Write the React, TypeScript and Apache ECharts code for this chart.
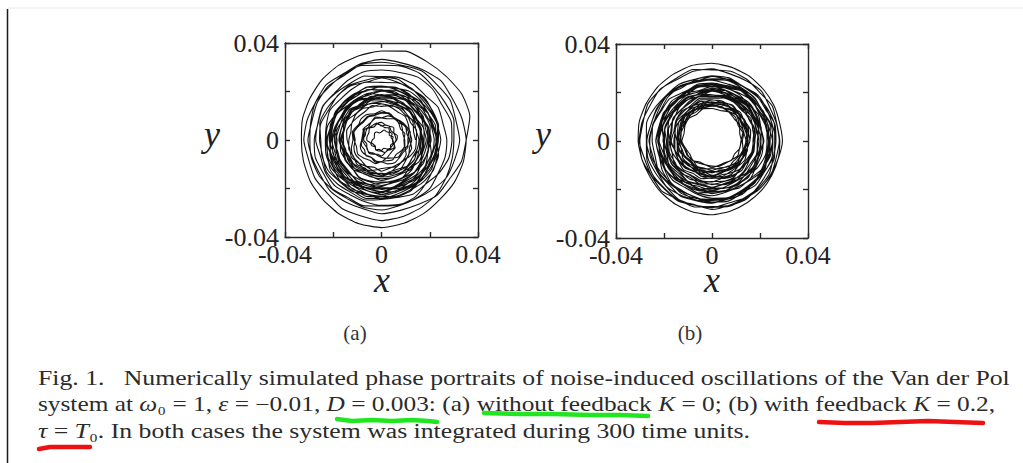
import React, { useEffect, useRef } from "react";
import * as echarts from "echarts";

// Polar sampling angles (degrees, counter-clockwise from +x) for every revolution
const ANGLES = [0, 15, 30, 45, 60, 75, 90, 105, 120, 135, 150, 165, 180, 195, 210, 225, 240, 255, 270, 285, 300, 315, 330, 345];
const AXIS_MIN = -0.04;
const AXIS_MAX = 0.04;
const AXIS_STEP = 0.02;
const TICK_LABELS = ["-0.04", "0", "0.04"];

// Panel (a): K = 0. Radius sqrt(x^2+y^2) of the trajectory, one row per revolution (units of 1e-4).
const LOOPS_A: number[][] = [
  [141,137,150,149,160,155,161,168,158,168,165,159,166,156,149,154,146,139,145,136,138,151,147,161],
  [165,170,158,164,161,166,158,156,164,168,163,162,170,175,169,168,179,176,174,180,180,190,198,196],
  [205,199,194,202,191,184,188,182,171,178,169,173,176,167,172,169,182,180,188,183,187,190,186,186],
  [191,196,186,183,193,192,186,200,199,200,213,209,210,219,222,217,211,218,218,206,209,217,210,216],
  [218,214,223,214,222,224,218,227,218,219,223,211,214,216,208,214,203,210,201,209,220,218,220,233],
  [233,239,233,226,219,226,221,212,216,209,214,220,211,221,228,226,235,231,245,241,239,245,248,240],
  [245,239,242,249,243,248,256,247,258,258,251,260,256,252,263,257,251,257,246,246,259,258,274,288],
  [291,298,289,298,300,289,289,291,283,274,280,272,272,261,268,270,261,264,270,276,281,293,310,313],
  [323,318,328,324,330,320,321,323,308,313,307,298,304,295,291,299,296,294,305,301,307,324,324,342],
  [350,378,382,375,374,380,368,360,356,350,342,338,331,334,340,345,352,358,362,356,350,344,348,350],
  [350,344,339,347,336,329,333,327,316,323,314,318,321,312,317,314,327,325,333,328,324,320,309,302],
  [299,310,305,306,317,316,309,319,313,308,314,302,296,299,297,288,281,288,289,281,280,283,271,272],
  [270,263,270,258,266,268,262,274,267,271,279,271,278,283,277,286,275,282,273,278,274,257,246,244],
  [229,241,243,244,245,260,261,256,262,257,260,264,251,255,254,244,245,233,241,233,230,235,239,230],
  [234,223,222,225,215,217,222,212,222,222,217,230,229,230,245,243,241,250,242,243,243,230,233,235],
  [225,231,221,230,232,222,223,226,220,213,221,215,216,206,214,216,207,209,214,219,210,207,210,198],
  [194,188,198,195,205,200,207,216,209,221,221,217,227,219,215,222,215,208,213,202,197,203,192,199],
  [196,201,189,195,191,194,185,181,189,191,185,182,189,194,188,187,199,198,197,205,193,192,188,175],
  [172,165,160,169,162,160,170,171,168,182,179,188,195,187,192,188,197,190,192,180,178,176,166,161],
  [160,171,166,167,178,177,170,180,174,169,175,163,157,160,158,149,142,149,150,142,146,153,147,152],
  [155,148,155,143,148,148,139,147,136,136,141,131,135,140,134,143,135,144,138,147,147,134,127,129],
  [118,123,117,111,106,116,113,107,113,109,116,125,118,129,136,133,140,133,145,138,127,123,118,100],
  [96,92,99,109,105,112,121,112,122,121,112,120,113,107,114,105,97,101,89,89,94,85,92,98],
  [93,100,91,100,102,91,91,93,85,76,82,74,74,63,70,72,63,66,72,78,68,64,65,52],
  [47,41,51,48,58,53,60,69,62,74,74,70,80,72,68,75,68,61,66,55,49,54,43,49],
  [45,50,38,44,40,43,34,30,38,40,34,31,38,43,37,36,48,47,46,54,50,56,61,55],
  [60,59,59,72,66,64,73,70,62,70,60,61,61,47,47,39,47,40,43,35,43,50,50,54],
  [63,68,58,55,65,64,58,72,71,72,85,81,82,91,94,89,83,90,90,78,86,99,97,108],
  [115,108,114,101,105,103,92,98,85,84,88,77,81,86,81,91,84,95,91,102,109,104,103,113],
  [109,116,112,107,103,114,111,105,110,105,111,118,109,118,123,119,125,117,129,122,120,125,129,120],
  [125,121,128,138,134,141,150,141,151,150,141,149,142,136,143,134,126,130,118,118,127,122,135,145],
  [144,150,140,149,154,146,150,157,155,152,163,159,163,153,161,163,151,151,153,154,156,164,179,178],
  [185,180,190,186,192,182,183,185,170,175,169,160,166,157,153,161,158,156,167,163,162,171,165,175],
  [176,181,170,177,176,182,177,177,189,196,193,194,203,208,201,199,208,204,199,203,203,213,220,218],
  [227,219,211,217,205,198,203,199,191,200,194,200,206,199,207,206,220,218,225,218,223,229,226,229],
  [235,244,237,237,247,245,238,248,243,239,246,236,232,237,237,229,223,231,232,224,226,232,223,227],
  [228,218,221,207,212,213,205,216,208,212,221,215,224,232,230,241,233,241,234,240,238,223,213,213],
  [200,208,206,202,197,206,202,193,196,188,191,196,184,192,195,190,197,191,204,200,191,190,187,172],
  [170,164,168,176,171,178,188,181,194,195,189,199,195,191,201,194,187,191,178,176,177,163,167,168],
  [159,166,158,168,173,165,169,175,171,167,176,172,174,163,169,170,158,158,160,162,160,155,158,152],
];

// Panel (b): K = 0.2, tau = T0 (units of 1e-4)
const LOOPS_B: number[][] = [
  [195,189,196,185,191,191,183,191,182,182,187,175,179,183,177,185,176,185,178,187,193,186,185,193],
  [188,201,203,204,204,217,218,211,216,210,211,214,200,203,202,192,194,184,192,186,189,200,208,205],
  [215,209,214,221,215,218,226,216,227,226,218,227,222,218,227,221,215,223,212,213,225,222,237,249],
  [251,255,244,250,250,236,234,235,227,219,227,222,224,216,225,230,223,229,237,244,239,240,247,239],
  [239,233,243,240,250,245,252,261,254,266,266,262,272,264,260,267,260,253,258,247,247,257,252,263],
  [265,270,258,264,261,266,258,256,264,268,263,262,270,275,269,268,279,276,274,280,275,280,282,275],
  [279,277,277,291,287,288,299,299,293,304,296,300,302,289,289,280,286,276,277,266,273,280,280,284],
  [292,290,296,302,310,316,322,324,320,318,314,312,306,300,297,300,303,305,306,300,294,290,286,284],
  [281,278,289,282,293,299,295,307,299,302,307,296,299,300,290,294,280,283,272,277,280,269,264,268],
  [260,268,266,262,260,271,270,265,272,268,274,281,272,280,283,278,282,274,284,276,271,274,274,263],
  [265,259,262,269,260,263,268,255,262,258,248,255,248,244,255,249,246,254,246,250,254,245,252,258],
  [252,254,240,244,243,229,228,231,226,220,231,228,233,227,239,246,240,246,253,258,249,246,250,238],
  [234,230,241,239,246,237,240,242,229,235,229,220,225,215,210,216,212,209,218,214,208,213,201,207],
  [203,211,203,212,212,217,212,210,220,224,217,214,220,222,212,208,216,213,208,214,207,209,210,200],
  [202,199,197,209,202,199,208,205,198,207,198,201,203,191,193,186,195,189,192,184,184,183,175,171],
  [172,184,179,181,194,195,190,202,198,195,202,190,185,187,185,175,166,171,170,160,165,173,168,174],
  [178,175,186,177,184,185,177,184,172,170,172,158,158,159,149,155,145,153,146,156,160,151,146,152],
  [145,158,160,160,159,171,170,162,166,158,159,160,145,148,147,138,141,132,142,137,135,141,145,136],
  [141,136,141,148,141,145,151,140,148,145,136,143,136,131,140,134,129,136,127,129,132,122,128,133],
  [126,137,133,146,152,143,147,150,145,137,142,132,129,114,116,114,101,102,104,109,108,112,123,118],
  [122,119,132,130,139,131,135,139,127,134,129,120,125,114,107,113,107,103,111,105,104,114,108,119],
  [120,132,126,138,140,148,144,142,151,154,145,138,141,139,127,120,126,120,114,120,122,135,145,146],
  [157,155,155,167,159,155,162,157,147,153,142,143,142,129,129,122,132,127,132,126,134,142,143,148],
  [157,166,159,158,168,167,159,170,164,160,168,158,154,159,159,152,146,153,155,146,153,164,162,171],
  [177,175,186,178,187,190,184,193,183,183,186,172,173,173,163,168,156,162,153,161,170,166,168,179],
  [177,190,192,193,193,206,207,200,205,199,200,203,189,192,191,181,183,173,181,175,180,193,203,202],
  [214,207,210,216,207,208,213,200,209,205,196,203,197,194,205,200,197,207,199,203,212,207,219,229],
  [228,236,228,239,242,232,234,236,230,222,228,220,219,207,213,213,203,205,209,215,218,227,243,243],
  [251,241,246,237,240,227,227,230,218,226,225,221,232,228,229,242,242,243,255,250,244,249,239,245],
  [241,250,242,252,252,259,254,252,260,264,256,253,258,259,249,244,252,247,242,248,241,244,245,236],
  [238,231,226,235,228,226,236,237,234,248,245,254,261,253,258,254,263,256,258,246,246,245,237,233],
  [234,242,233,232,240,238,229,238,231,226,233,223,219,225,227,220,216,224,227,220,219,223,212,214],
  [212,210,221,214,224,228,224,234,225,227,230,218,220,220,210,214,201,206,195,202,205,196,191,196],
  [189,199,199,197,196,207,207,201,208,203,207,212,201,207,208,201,204,196,205,198,194,199,201,192],
  [195,191,196,205,197,200,206,192,199,194,182,187,178,172,181,173,169,177,168,173,176,166,172,177],
  [170,181,177,190,196,187,191,194,189,181,186,176,173,158,160,158,145,146,148,153,148,150,157,150],
  [150,148,161,160,171,165,171,177,167,176,172,163,169,157,150,155,147,141,147,139,135,142,134,142],
  [140,151,145,156,156,162,156,152,159,160,150,143,145,144,132,126,134,130,126,134,132,139,145,140],
  [147,145,145,157,149,145,152,147,137,143,132,133,132,119,119,112,122,117,122,116,124,132,133,138],
  [147,156,149,148,158,157,149,160,154,150,158,148,144,149,149,142,136,143,145,136,140,146,145,150],
];
const RADIUS_UNIT = 1e-4; // the loops above are in units of 1e-4 of x and y

const PANEL_LABELS = ["(a)", "(b)"];
const CAPTION_1 = "Fig. 1.   Numerically simulated phase portraits of noise-induced oscillations of the Van der Pol";
const CAPTION_2 = "system at {i|ω}₀ = 1, {i|ε} = −0.01, {i|D} = 0.003: (a) without feedback {i|K} = 0; (b) with feedback {i|K} = 0.2,";
const CAPTION_3 = "{i|τ} = {i|T}₀. In both cases the system was integrated during 300 time units.";

function toPolar(loops: number[][]) {
  const out: [number, number][] = [];
  loops.forEach((loop) => loop.forEach((r, i) => out.push([r, ANGLES[i]])));
  return out;
}

const SERIF = "Liberation Serif";
const INK = "#222";
const CAP_INK = "#2b2b2b";
const CAP_SIZE = 20;

function tickFormatter(v: number) {
  if (Math.abs(v) < 1e-9) return TICK_LABELS[1];
  if (Math.abs(v - AXIS_MIN) < 1e-9) return TICK_LABELS[0];
  if (Math.abs(v - AXIS_MAX) < 1e-9) return TICK_LABELS[2];
  return "";
}

function makeAxes(gridIndex: number) {
  const line = { show: true, onZero: false, lineStyle: { color: "#2a2a2a", width: 1.4 } };
  const tick = { show: true, inside: true, length: 5, lineStyle: { color: "#2a2a2a", width: 1.4 } };
  const label = { show: true, formatter: tickFormatter, fontFamily: SERIF, fontSize: 26, color: INK };
  const common = { gridIndex, type: "value", min: AXIS_MIN, max: AXIS_MAX, interval: AXIS_STEP, splitLine: { show: false }, axisLine: line, axisTick: tick };
  return {
    x: [
      { ...common, position: "bottom", axisLabel: { ...label, margin: 4 } },
      { ...common, position: "top", axisLabel: { show: false } },
    ],
    y: [
      { ...common, position: "left", axisLabel: { ...label, margin: 6 } },
      { ...common, position: "right", axisLabel: { show: false } },
    ],
  };
}

export default function App() {
  const ref = useRef<HTMLDivElement>(null);
  useEffect(() => {
    if (!ref.current) return;
    const chart = echarts.init(ref.current, undefined, { renderer: "svg" });
    const a0 = makeAxes(0);
    const a1 = makeAxes(1);
    const hidden = { axisLine: { show: false }, axisTick: { show: false }, axisLabel: { show: false }, splitLine: { show: false } };
    const italic = { fontStyle: "italic", fontFamily: SERIF, fontSize: CAP_SIZE, fill: CAP_INK };
    const rMax = AXIS_MAX / RADIUS_UNIT;
    const traj = { type: "line", coordinateSystem: "polar", showSymbol: false, symbol: "none", silent: true, smooth: 0.2, lineStyle: { color: "#111", width: 1.1 } };
    const under = (points: number[][], stroke: string) => ({ type: "polyline", shape: { points }, style: { stroke, lineWidth: 4.5, lineCap: "round", lineJoin: "round", fill: "none" } });
    const cap = (y: number, scaleX: number, text: string) => ({ type: "text", x: 38, y, scaleX, style: { text, fontFamily: SERIF, fontSize: CAP_SIZE, fill: CAP_INK, verticalAlign: "middle", rich: { i: italic } } });
    chart.setOption({
      animation: false,
      backgroundColor: "#ffffff",
      grid: [
        { left: 285, top: 43, width: 193, height: 194, containLabel: false },
        { left: 616, top: 44, width: 192, height: 194, containLabel: false },
      ],
      xAxis: [...a0.x, ...a1.x],
      yAxis: [...a0.y, ...a1.y],
      polar: [
        { center: [381.5, 140], radius: 96.8 },
        { center: [712, 141], radius: 96.5 },
      ],
      angleAxis: [
        { polarIndex: 0, type: "value", min: 0, max: 360, startAngle: 0, clockwise: false, ...hidden },
        { polarIndex: 1, type: "value", min: 0, max: 360, startAngle: 0, clockwise: false, ...hidden },
      ],
      radiusAxis: [
        { polarIndex: 0, type: "value", min: 0, max: rMax, ...hidden },
        { polarIndex: 1, type: "value", min: 0, max: rMax, ...hidden },
      ],
      series: [
        { ...traj, polarIndex: 0, data: toPolar(LOOPS_A) },
        { ...traj, polarIndex: 1, data: toPolar(LOOPS_B) },
      ],
      graphic: [
        { type: "line", shape: { x1: 7.5, y1: 9, x2: 7.5, y2: 463 }, style: { stroke: "#1a1a1a", lineWidth: 1.5 } },
        { type: "line", shape: { x1: 8, y1: 8, x2: 1023, y2: 8 }, style: { stroke: "#e8e8e8", lineWidth: 1 } },
        { type: "text", x: 212, y: 134, style: { text: "y", fontFamily: SERIF, fontStyle: "italic", fontSize: 36, fill: INK, align: "center", verticalAlign: "middle" } },
        { type: "text", x: 382, y: 280, style: { text: "x", fontFamily: SERIF, fontStyle: "italic", fontSize: 36, fill: INK, align: "center", verticalAlign: "middle" } },
        { type: "text", x: 543, y: 134, style: { text: "y", fontFamily: SERIF, fontStyle: "italic", fontSize: 36, fill: INK, align: "center", verticalAlign: "middle" } },
        { type: "text", x: 712, y: 280, style: { text: "x", fontFamily: SERIF, fontStyle: "italic", fontSize: 36, fill: INK, align: "center", verticalAlign: "middle" } },
        { type: "text", x: 355, y: 333, style: { text: PANEL_LABELS[0], fontFamily: SERIF, fontSize: 21, fill: "#333", align: "center", verticalAlign: "middle" } },
        { type: "text", x: 690, y: 333, style: { text: PANEL_LABELS[1], fontFamily: SERIF, fontSize: 21, fill: "#333", align: "center", verticalAlign: "middle" } },
        cap(378, 1.287, CAPTION_1),
        cap(404, 1.267, CAPTION_2),
        cap(431, 1.287, CAPTION_3),
        under([[337, 419], [352, 421], [372, 420], [392, 421], [412, 420], [428, 421], [437, 422]], "#1fe61f"),
        under([[484, 413], [520, 414], [553, 414], [590, 415], [620, 415], [648, 416]], "#1fe61f"),
        under([[819, 422], [845, 423], [872, 423], [900, 422], [928, 421], [955, 422], [983, 423]], "#ee1111"),
        under([[39, 449], [50, 447], [70, 447], [90, 447]], "#ee1111"),
      ],
    });
    return () => chart.dispose();
  }, []);
  return <div ref={ref} style={{ position: "absolute", left: 0, top: 0, width: 1023, height: 463, background: "#fff" }} />;
}
